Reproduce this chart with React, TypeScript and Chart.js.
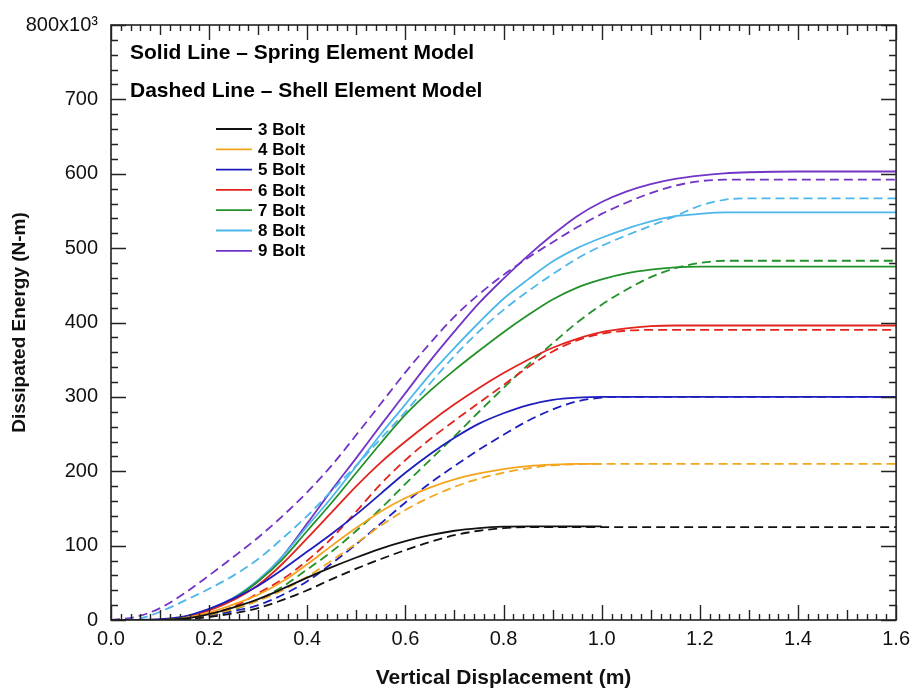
import React, { useEffect, useRef } from "react";
import { Chart, registerables } from "chart.js";
Chart.register(...registerables);

// Vertical displacement (m)
const displacement = [0, 0.05, 0.1, 0.15, 0.2, 0.25, 0.3, 0.35, 0.4, 0.45, 0.5, 0.55, 0.6, 0.65, 0.7, 0.75, 0.8, 0.85, 0.9, 0.95, 1.0, 1.05, 1.1, 1.15, 1.2, 1.25, 1.3, 1.4, 1.5, 1.6];

const boltLabels = ["3 Bolt", "4 Bolt", "5 Bolt", "6 Bolt", "7 Bolt", "8 Bolt", "9 Bolt"];
const boltColors = ["#111111", "#F3A51E", "#1E1EBE", "#E3241E", "#23912A", "#4DB7EA", "#7234C6"];

// Dissipated energy (x10^3 N-m), spring element model (solid)
const spring3 = [0, 0, 0, 2, 8, 17, 28, 42, 57, 71, 84, 96, 106, 114, 120, 123.5, 125.5, 126, 126, 126, 126, null, null, null, null, null, null, null, null, null];
const spring4 = [0, 0, 0, 3, 10, 21, 34, 52, 75, 100, 124, 146, 164, 178, 189, 197, 203, 207, 209, 210, 210, null, null, null, null, null, null, null, null, null];
const spring5 = [0, 0, 1, 5, 15, 29, 46, 68, 92, 116, 142, 170, 198, 223, 245, 264, 278, 289, 296, 299, 300, 300, 300, 300, 300, 300, 300, 300, 300, 300];
const spring6 = [0, 0, 0, 4, 13, 27, 47, 76, 110, 145, 180, 212, 240, 266, 290, 312, 332, 350, 366, 378, 387, 392, 395, 396, 396, 396, 396, 396, 396, 396];
const spring7 = [0, 0, 0, 4, 14, 29, 52, 82, 120, 158, 198, 238, 276, 308, 336, 362, 387, 410, 431, 447, 458, 466, 471, 474, 475, 475, 475, 475, 475, 475];
const spring8 = [0, 0, 0, 4, 14, 30, 54, 86, 126, 165, 207, 250, 290, 330, 366, 400, 432, 458, 482, 500, 514, 526, 536, 543, 546, 548, 548, 548, 548, 548];
const spring9 = [0, 0, 0, 4, 14, 30, 52, 86, 130, 175, 218, 262, 305, 348, 388, 426, 459, 490, 518, 543, 562, 576, 586, 593, 597.5, 600.5, 602, 603, 603, 603];

// Dissipated energy (x10^3 N-m), shell element model (dashed)
const shell3 = [0, 0, 0, 1, 4, 9, 16, 27, 40, 55, 69, 82, 94, 105, 114, 120, 123.5, 125, 125, 125, 125, 125, 125, 125, 125, 125, 125, 125, 125, 125];
const shell4 = [0, 0, 0, 2, 7, 15, 26, 40, 58, 80, 103, 127, 148, 165, 179, 190, 198, 204, 208, 209.5, 210, 210, 210, 210, 210, 210, 210, 210, 210, 210];
const shell5 = [0, 0, 0, 2, 6, 12, 20, 34, 52, 76, 102, 130, 158, 184, 207, 229, 249, 268, 283, 294, 299, 300, 300, 300, 300, 300, 300, 300, 300, 300];
const shell6 = [0, 0, 0, 2, 8, 18, 36, 55, 80, 110, 146, 183, 215, 243, 268, 292, 316, 340, 361, 376, 385, 389, 390, 390, 390, 390, 390, 390, 390, 390];
const shell7 = [0, 0, 0, 2, 6, 14, 27, 45, 68, 92, 120, 150, 183, 215, 247, 280, 312, 343, 372, 400, 424, 444, 461, 473, 480, 483, 483, 483, 483, 483];
const shell8 = [0, 1, 11, 26, 42, 60, 82, 110, 140, 174, 208, 244, 280, 318, 355, 388, 417, 442, 465, 486, 503, 517, 530, 543, 557, 565, 567, 567, 567, 567];
const shell9 = [0, 4, 16, 36, 60, 85, 111, 140, 172, 208, 249, 291, 333, 372, 408, 438, 464, 487, 508, 528, 546, 561, 574, 584, 590, 592, 592, 592, 592, 592];

const springSeries = [spring3, spring4, spring5, spring6, spring7, spring8, spring9];
const shellSeries = [shell3, shell4, shell5, shell6, shell7, shell8, shell9];

const noteLines = ["Solid Line \u2013 Spring Element Model", "Dashed Line \u2013 Shell Element Model"];
const xTitle = "Vertical Displacement (m)";
const yTitle = "Dissipated Energy (N-m)";

const FONT = "'Liberation Sans', Arial, Helvetica, sans-serif";

const toPoints = (vals: (number | null)[]) =>
  displacement.map((x, i) => ({ x, y: vals[i] }));

const framePlugin = {
  id: "frameTicks",
  afterDatasetsDraw(chart: any) {
    const { ctx, chartArea } = chart;
    const { left, right, top, bottom } = chartArea;
    const xs = chart.scales.x;
    const ys = chart.scales.y;
    ctx.save();
    ctx.strokeStyle = "#222";
    ctx.lineWidth = 1.6;
    ctx.strokeRect(left, top, right - left, bottom - top);
    ctx.lineWidth = 1.4;
    ctx.beginPath();
    for (let i = 0; i <= 80; i++) {
      const px = Math.round(xs.getPixelForValue(i * 0.02)) + 0.5;
      const len = i % 10 === 0 ? 15 : i % 5 === 0 ? 10 : 6;
      ctx.moveTo(px, bottom);
      ctx.lineTo(px, bottom - len);
      ctx.moveTo(px, top);
      ctx.lineTo(px, top + len);
    }
    for (let i = 0; i <= 40; i++) {
      const py = Math.round(ys.getPixelForValue(i * 20)) + 0.5;
      const len = i % 5 === 0 ? 15 : 7;
      ctx.moveTo(left, py);
      ctx.lineTo(left + len, py);
      ctx.moveTo(right, py);
      ctx.lineTo(right - len, py);
    }
    ctx.stroke();

    // notes
    ctx.fillStyle = "#000";
    ctx.textBaseline = "middle";
    ctx.textAlign = "left";
    ctx.font = `bold 21px ${FONT}`;
    ctx.fillText(noteLines[0], left + 19, top + 28);
    ctx.fillText(noteLines[1], left + 19, top + 66);

    // legend
    ctx.font = `bold 17px ${FONT}`;
    boltLabels.forEach((lab, i) => {
      const cy = top + 104 + i * 20.3;
      ctx.strokeStyle = boltColors[i];
      ctx.lineWidth = 1.8;
      ctx.beginPath();
      ctx.moveTo(left + 105, cy);
      ctx.lineTo(left + 141, cy);
      ctx.stroke();
      ctx.fillStyle = "#000";
      ctx.fillText(lab, left + 147, cy + 1);
    });
    ctx.restore();
  },
};

export default function App() {
  const ref = useRef<HTMLCanvasElement | null>(null);
  useEffect(() => {
    if (!ref.current) return;
    const datasets: any[] = [];
    boltLabels.forEach((lab, i) => {
      datasets.push({
        label: lab + " shell",
        data: toPoints(shellSeries[i]),
        borderColor: boltColors[i],
        borderWidth: 1.8,
        borderDash: [9, 5],
        pointRadius: 0,
        cubicInterpolationMode: "monotone",
        fill: false,
      });
      datasets.push({
        label: lab,
        data: toPoints(springSeries[i]),
        borderColor: boltColors[i],
        borderWidth: 1.8,
        pointRadius: 0,
        cubicInterpolationMode: "monotone",
        fill: false,
        spanGaps: false,
      });
    });
    const chart = new Chart(ref.current, {
      type: "line",
      data: { datasets },
      options: {
        animation: false,
        responsive: true,
        maintainAspectRatio: false,
        layout: { padding: { top: 24, right: 19, left: 0, bottom: 0 } },
        plugins: { legend: { display: false }, tooltip: { enabled: false } },
        scales: {
          x: {
            type: "linear",
            min: 0,
            max: 1.6,
            grid: { display: false, drawTicks: false },
            border: { display: false },
            ticks: {
              stepSize: 0.2,
              padding: 7,
              color: "#111",
              font: { family: FONT, size: 20 },
              callback: (v: any) => Number(v).toFixed(1),
              maxRotation: 0,
            },
            title: {
              display: true,
              text: xTitle,
              color: "#111",
              font: { family: FONT, size: 21, weight: "bold" },
              padding: { top: 0, bottom: 3 },
            },
            afterFit: (s: any) => {
              s.height = 74;
            },
          },
          y: {
            type: "linear",
            min: 0,
            max: 800,
            grid: { display: false, drawTicks: false },
            border: { display: false },
            ticks: {
              stepSize: 100,
              padding: 13,
              color: "#111",
              font: { family: FONT, size: 20 },
              callback: (v: any) => (Number(v) === 800 ? "800x10\u00B3" : String(v)),
            },
            title: {
              display: true,
              text: yTitle,
              color: "#111",
              font: { family: FONT, size: 19, weight: "bold" },
              padding: { top: 8, bottom: 0 },
            },
            afterFit: (s: any) => {
              s.width = 111;
            },
          },
        },
      },
      plugins: [framePlugin],
    });
    return () => chart.destroy();
  }, []);
  return (
    <div style={{ position: "fixed", left: 0, top: 0, width: 917, height: 694, background: "#fff" }}>
      <canvas ref={ref} />
    </div>
  );
}
